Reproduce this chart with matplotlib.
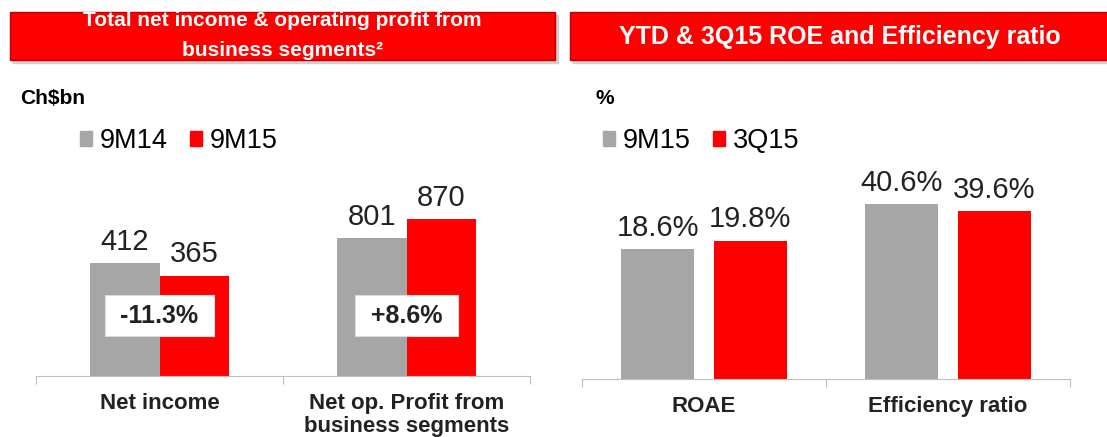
import numpy as np
import matplotlib.pyplot as plt
from matplotlib.patches import Rectangle, Patch

plt.rcParams['font.family'] = ['Liberation Sans', 'DejaVu Sans']

# Data
left_categories = ["Net income", "Net op. Profit from\nbusiness segments"]
left_series = ["9M14", "9M15"]
left_9m14 = [412, 801]
left_9m15 = [365, 870]
left_changes = ["-11.3%", "+8.6%"]
left_breaks = [0, 300]   # axis is cut for the second group

right_categories = ["ROAE", "Efficiency ratio"]
right_series = ["9M15", "3Q15"]
right_9m15 = [18.6, 40.6]
right_3q15 = [19.8, 39.6]
right_breaks = [0, 15.6]

GREY = "#A6A6A6"
RED = "#FF0000"
AXIS = "#BFBFBF"

W, H = 1107, 437
fig = plt.figure(figsize=(W / 100, H / 100), dpi=100)


def fx(px):
    return px / W


def fy(py):
    return 1 - py / H


# Header boxes
def header(x0, x1, lines, size):
    fig.patches.append(Rectangle((fx(x0 + 3), fy(63)), fx(x1 - x0), 48 / H,
                                 transform=fig.transFigure, color="#D0D0D0", zorder=0))
    fig.patches.append(Rectangle((fx(x0), fy(60)), fx(x1 - x0), 48 / H,
                                 transform=fig.transFigure, facecolor=RED,
                                 edgecolor="#C00000", lw=1, zorder=1))
    for txt, y in lines:
        fig.text(fx((x0 + x1) / 2), fy(y), txt, color="white", fontsize=size,
                 fontweight="bold", ha="center", va="center", zorder=2)


header(10, 555, [("Total net income & operating profit from", 20),
                 ("business segments²", 50)], 15)
header(570, 1110, [("YTD & 3Q15 ROE and Efficiency ratio", 37)], 18)

fig.text(fx(20), fy(99), "Ch$bn", fontsize=15, fontweight="bold", va="center")
fig.text(fx(596), fy(99), "%", fontsize=15, fontweight="bold", va="center")


def panel(rect, ymax, cats, a, b, breaks, width, offset, fmt, names, legend_x):
    ax = fig.add_axes(rect)
    x = np.arange(len(cats))
    ha = np.array(a) - np.array(breaks)
    hb = np.array(b) - np.array(breaks)
    ax.bar(x - offset, ha, width, color=GREY)
    ax.bar(x + offset, hb, width, color=RED)
    for xi, h, v in zip(x - offset, ha, a):
        ax.annotate(fmt.format(v), (xi, h), xytext=(0, 9.5), textcoords="offset points",
                    ha="center", va="baseline", fontsize=21, color="#222222")
    for xi, h, v in zip(x + offset, hb, b):
        ax.annotate(fmt.format(v), (xi, h), xytext=(0, 9.5), textcoords="offset points",
                    ha="center", va="baseline", fontsize=21, color="#222222")
    ax.set_xlim(-0.5, len(cats) - 0.5)
    ax.set_ylim(0, ymax)
    for s in ["top", "right", "left"]:
        ax.spines[s].set_visible(False)
    ax.spines["bottom"].set_color(AXIS)
    ax.set_yticks([])
    ax.set_xticks(np.arange(len(cats) + 1) - 0.5)
    ax.tick_params(axis="x", length=6, color=AXIS, labelbottom=False)
    for xi, c in zip(x, cats):
        ax.annotate(c, (xi, 0), xytext=(0, -12), textcoords="offset points",
                    ha="center", va="top", fontsize=16, fontweight="bold",
                    color="#222222", linespacing=1.12)
    handles = [Patch(color=GREY), Patch(color=RED)]
    fig.legend(handles, names, loc="center left", bbox_to_anchor=(fx(legend_x), fy(141)),
               ncol=2, frameon=False, fontsize=19.5, handlelength=0.46, handleheight=0.46,
               handletextpad=0.28, columnspacing=0.8, borderpad=0, borderaxespad=0)
    return ax


ax1 = panel([fx(36), fy(376), fx(494), 246 / H], 895, left_categories,
            left_9m14, left_9m15, left_breaks, 0.283, 0.1415, "{:d}",
            left_series, 80)
for xi, c in enumerate(left_changes):
    ax1.text(xi, 0.245, " " + c + " ", transform=ax1.get_xaxis_transform(), ha="center",
             va="center", fontsize=18, fontweight="bold", color="#222222",
             bbox=dict(boxstyle="square,pad=0.35", facecolor="white", edgecolor="#DDDDDD", lw=0.8))

ax2 = panel([fx(582), fy(379), fx(488), 249 / H], 35.6, right_categories,
            right_9m15, right_3q15, right_breaks, 0.30, 0.19, "{:.1f}%",
            right_series, 603)

plt.savefig("out.png", dpi=100)
